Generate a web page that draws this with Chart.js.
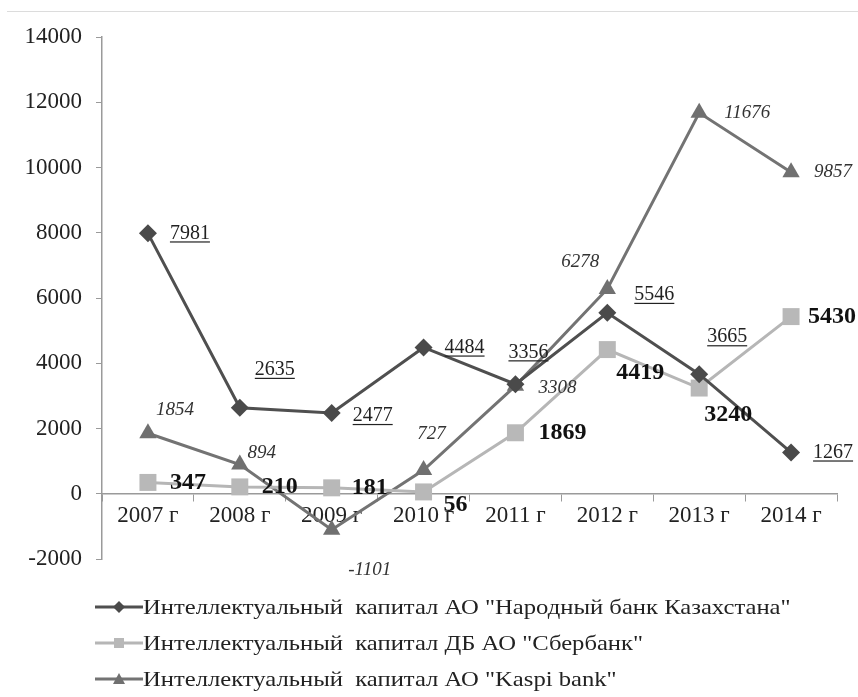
<!DOCTYPE html>
<html lang="ru">
<head>
<meta charset="utf-8">
<title>Интеллектуальный капитал банков</title>
<script src="https://cdn.jsdelivr.net/npm/chart.js@4.4.1/dist/chart.umd.min.js"></script>
<style>
  html, body { margin: 0; padding: 0; background: #fff; }
  #wrap { position: relative; width: 858px; height: 697px; overflow: hidden; }
  #topline { position: absolute; left: 7px; right: 0; top: 11px; border-top: 1px solid #dcdcdc; }
  #chart { position: absolute; left: 0; top: 0; }
  #legend { position: absolute; left: 95px; top: 589px; font-family: "Liberation Serif", "Times New Roman", serif; font-size: 22px; color: #222; }
  .row { height: 36px; display: flex; align-items: center; white-space: pre; }
  .row span { display: inline-block; transform: scaleX(1.12); transform-origin: left center; }
</style>
</head>
<body>
<div id="wrap">
  <div id="topline"></div>
  <canvas id="chart" width="858" height="697"></canvas>
  <div id="legend"></div>
</div>
<script>
// data
const years = ['2007 г', '2008 г', '2009 г', '2010 г', '2011 г', '2012 г', '2013 г', '2014 г'];
const halykValues = [7981, 2635, 2477, 4484, 3356, 5546, 3665, 1267];
const sberValues = [347, 210, 181, 56, 1869, 4419, 3240, 5430];
const kaspiValues = [1854, 894, -1101, 727, 3308, 6278, 11676, 9857];
const seriesNames = [
  'Интеллектуальный  капитал АО "Народный банк Казахстана"',
  'Интеллектуальный  капитал ДБ АО "Сбербанк"',
  'Интеллектуальный  капитал АО "Kaspi bank"'
];
const yMin = -2000, yMax = 14000, yStep = 2000;

const serif = '"Liberation Serif", "Times New Roman", serif';

document.addEventListener('DOMContentLoaded', function(){
  // value labels next to each point
  const valueLabels = {
    id: 'valueLabels',
    afterDatasetsDraw(chart) {
      const ctx = chart.ctx;
      chart.data.datasets.forEach((ds, i) => {
        const meta = chart.getDatasetMeta(i);
        const st = ds.labelStyle;
        ctx.save();
        ctx.font = st.font;
        ctx.fillStyle = st.color;
        ctx.textAlign = 'center';
        ctx.textBaseline = 'middle';
        meta.data.forEach((pt, j) => {
          const off = st.offsets[j];
          const x = pt.x + off[0], y = pt.y + off[1];
          const txt = String(ds.data[j]);
          ctx.fillText(txt, x, y);
          if (st.underline) {
            const w = ctx.measureText(txt).width;
            ctx.fillRect(x - w / 2, y + 8, w, 1.2);
          }
        });
        ctx.restore();
      });
    }
  };

  const ctx = document.getElementById('chart').getContext('2d');
  const chart = new Chart(ctx, {
    type: 'line',
    data: {
      labels: years,
      datasets: [
        {
          label: seriesNames[0],
          data: halykValues,
          borderColor: '#4f4f4f',
          backgroundColor: '#4a4a4a',
          borderWidth: 3,
          pointStyle: 'rectRot',
          pointRadius: 9,
          pointBorderWidth: 0,
          labelStyle: {
            font: '20px ' + serif, color: '#222', underline: true,
            offsets: [[42, 0], [35, -38], [41, 3], [41, 0], [13, -32], [47, -18], [28, -37], [42, 0]]
          }
        },
        {
          label: seriesNames[1],
          data: sberValues,
          borderColor: '#b6b6b6',
          backgroundColor: '#b8b8b8',
          borderWidth: 3,
          pointStyle: 'rect',
          pointRadius: 12,
          pointBorderWidth: 0,
          labelStyle: {
            font: 'bold 24px ' + serif, color: '#111', underline: false,
            offsets: [[40, 0], [40, 0], [38, 0], [32, 13], [47, 0], [33, 23], [29, 27], [41, 0]]
          }
        },
        {
          label: seriesNames[2],
          data: kaspiValues,
          borderColor: '#737373',
          backgroundColor: '#707070',
          borderWidth: 3,
          pointStyle: 'triangle',
          pointRadius: 10,
          pointBorderWidth: 0,
          labelStyle: {
            font: 'italic 19px ' + serif, color: '#333', underline: false,
            offsets: [[27, -23], [22, -12], [38, 40], [8, -36], [42, 2], [-27, -27], [48, 0], [42, 0]]
          }
        }
      ]
    },
    options: {
      responsive: false,
      animation: false,
      layout: { padding: { left: 7, top: 37, right: 21, bottom: 138 } },
      plugins: { legend: { display: false }, tooltip: { enabled: false } },
      scales: {
        x: {
          position: { y: 0 },
          offset: true,
          grid: { drawOnChartArea: false, drawTicks: true, tickLength: 7, color: '#9a9a9a', offset: true },
          border: { color: '#9a9a9a', width: 1.5 },
          ticks: { font: { family: serif, size: 23 }, color: '#222', padding: 1, maxRotation: 0 }
        },
        y: {
          min: yMin,
          max: yMax,
          afterFit(scale) { scale.width = 95; },
          grid: { drawOnChartArea: false, tickLength: 6, color: '#9a9a9a' },
          border: { color: '#9a9a9a', width: 1.5 },
          ticks: {
            stepSize: yStep, font: { family: serif, size: 23 }, color: '#222', padding: 14,
            callback: v => String(v)
          }
        }
      }
    },
    plugins: [valueLabels]
  });

  // legend built from the datasets
  const markers = [
    '<polygon points="24,4 30,10 24,16 18,10" fill="#4a4a4a"/>',
    '<rect x="19" y="5" width="10" height="10" fill="#b8b8b8"/>',
    '<polygon points="24,4 30,15 18,15" fill="#707070"/>'
  ];
  const legend = document.getElementById('legend');
  chart.data.datasets.forEach((ds, i) => {
    const row = document.createElement('div');
    row.className = 'row';
    row.innerHTML = '<svg width="48" height="20"><line x1="0" y1="10" x2="48" y2="10" stroke="' +
      ds.borderColor + '" stroke-width="3"/>' + markers[i] + '</svg>';
    const span = document.createElement('span');
    span.textContent = ds.label;
    row.appendChild(span);
    legend.appendChild(row);
  });
});
</script>
</body>
</html>
